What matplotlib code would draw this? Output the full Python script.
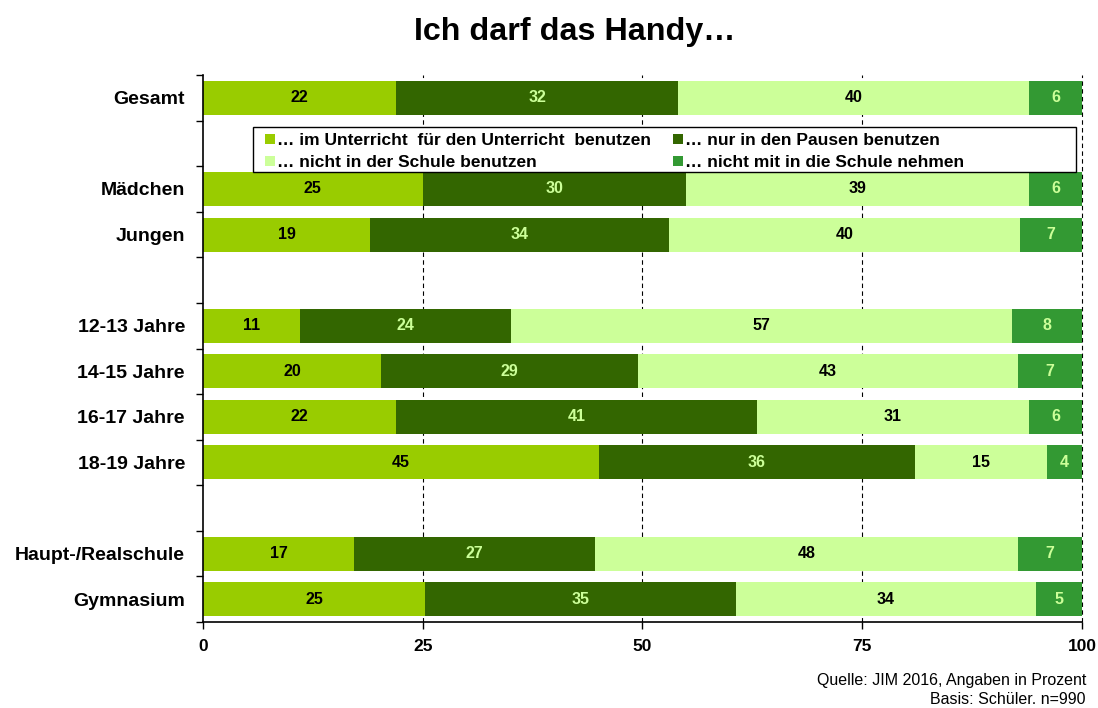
import matplotlib
matplotlib.use("Agg")
import matplotlib.pyplot as plt
from matplotlib.patches import Patch, Rectangle
from matplotlib.ticker import FixedLocator

plt.rcParams['font.family'] = ['Liberation Sans', 'DejaVu Sans']

# Row labels (empty strings are spacer rows between groups)
categories = ["Gesamt", "", "Mädchen", "Jungen", "",
              "12-13 Jahre", "14-15 Jahre", "16-17 Jahre", "18-19 Jahre", "",
              "Haupt-/Realschule", "Gymnasium"]

series_names = ["… im Unterricht  für den Unterricht  benutzen",
                "… nur in den Pausen benutzen",
                "… nicht in der Schule benutzen",
                "… nicht mit in die Schule nehmen"]

im_unterricht = [22, None, 25, 19, None, 11, 20.3, 22, 45, None, 17.2, 25.3]
nur_pausen    = [32, None, 30, 34, None, 24, 29.2, 41, 36, None, 27.4, 35.3]
nicht_schule  = [40, None, 39, 40, None, 57, 43.2, 31, 15, None, 48.1, 34.2]
nicht_mit     = [6, None, 6, 7, None, 8, 7.3, 6, 4, None, 7.3, 5.2]

colors = ["#99cc00", "#336600", "#ccff99", "#339933"]
label_colors = ["black", "#ccff99", "black", "#ccff99"]

x_ticks = [0, 25, 50, 75, 100]

fig = plt.figure(figsize=(10.98, 7.08), dpi=100)
ax = fig.add_axes([0.1849, 0.1215, 0.8005, 0.7725])

series = [im_unterricht, nur_pausen, nicht_schule, nicht_mit]
for i, cat in enumerate(categories):
    left = 0.0
    for s, vals in enumerate(series):
        v = vals[i]
        if v is None:
            continue
        ax.barh(i, v, left=left, height=0.745, color=colors[s], edgecolor="none", zorder=2)
        ax.text(left + v / 2, i, f"{v:.0f}", ha="center", va="center",
                fontsize=11.5, fontweight="bold", color=label_colors[s], zorder=3)
        left += v

ax.set_xlim(0, 100)
ax.set_ylim(len(categories) - 0.5, -0.5)

# vertical dashed gridlines
for xv in x_ticks[1:]:
    ax.axvline(xv, color="black", linestyle=(0, (4, 3)), linewidth=0.8, zorder=1,
               clip_on=False)

ax.set_xticks(x_ticks)
ax.set_xticklabels([str(t) for t in x_ticks], fontsize=12.5, fontweight="bold")
ax.tick_params(axis="x", direction="out", length=5, width=1, pad=7)

ax.set_yticks(range(len(categories)))
ax.set_yticklabels(categories, fontsize=14, fontweight="bold")
ax.tick_params(axis="y", which="major", length=0, pad=13)
ax.yaxis.set_minor_locator(FixedLocator([k - 0.5 for k in range(len(categories) + 1)]))
ax.tick_params(axis="y", which="minor", direction="out", length=5, width=1)

for side in ["top", "right"]:
    ax.spines[side].set_visible(False)
ax.spines["left"].set_linewidth(1.2)
ax.spines["bottom"].set_linewidth(1.2)

# legend box spanning most of the spacer row below "Gesamt"
ax.add_patch(Rectangle((0.0569, 0.8227), 0.9363, 0.0822, transform=ax.transAxes,
                       facecolor="white", edgecolor="black", linewidth=1.0,
                       zorder=4, clip_on=False))

handles = [Patch(facecolor=c, edgecolor="none") for c in colors]
order = [0, 2, 1, 3]
leg = ax.legend([handles[k] for k in order], [series_names[k] for k in order],
                ncol=2, loc="center left", bbox_to_anchor=(0.0705, 0.8600),
                frameon=False,
                prop={"weight": "bold", "size": 12.5},
                handlelength=0.575, handleheight=0.575,
                handletextpad=0.12, columnspacing=1.26, borderpad=0, labelspacing=0.4,
                borderaxespad=0)
leg.set_zorder(5)

fig.text(0.523, 0.955, "Ich darf das Handy…", ha="center", va="center",
         fontsize=23.2, fontweight="bold")
fig.text(0.989, 0.0395, "Quelle: JIM 2016, Angaben in Prozent", ha="right", va="center",
         fontsize=11.5)
fig.text(0.989, 0.0115, "Basis: Schüler. n=990", ha="right", va="center", fontsize=11.5)

fig.savefig("out.png", dpi=100)
